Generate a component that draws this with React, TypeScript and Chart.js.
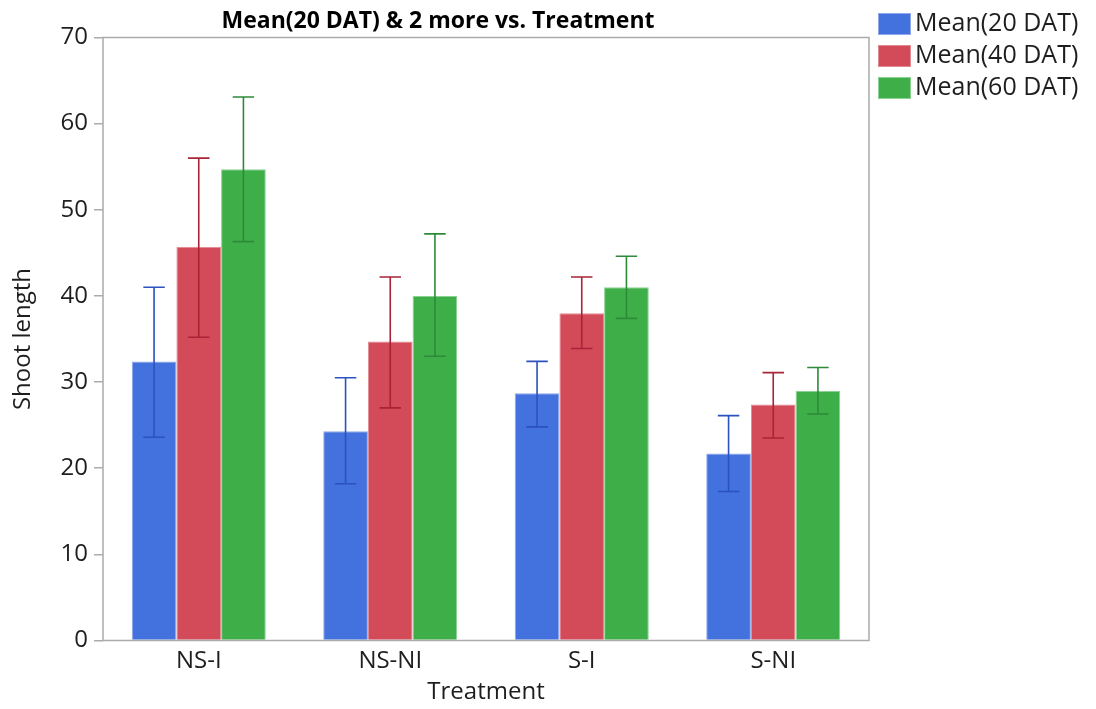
import React, { useEffect, useRef } from "react";
import { Chart, registerables } from "chart.js";

Chart.register(...registerables);

const categories = ["NS-I", "NS-NI", "S-I", "S-NI"];
const seriesNames = ["Mean(20 DAT)", "Mean(40 DAT)", "Mean(60 DAT)"];
const mean20 = [32.4, 24.3, 28.7, 21.7];
const mean40 = [45.7, 34.7, 38.0, 27.4];
const mean60 = [54.7, 40.0, 41.0, 29.0];
const low20 = [23.6, 18.2, 24.8, 17.3];
const high20 = [41.0, 30.5, 32.4, 26.1];
const low40 = [35.2, 27.0, 33.9, 23.5];
const high40 = [56.0, 42.2, 42.2, 31.1];
const low60 = [46.3, 33.0, 37.4, 26.3];
const high60 = [63.1, 47.2, 44.6, 31.7];
const yTicks = [0, 10, 20, 30, 40, 50, 60, 70];

const fills = ["#4371DD", "#D34A59", "#3EAF48"];
const edges = ["#8FA9EA", "#E28A94", "#8AD192"];
const errColors = ["#2B52BE", "#A82436", "#2C8A38"];
const lows = [low20, low40, low60];
const highs = [high20, high40, high60];
const FONT = "'Open Sans', 'Noto Sans', sans-serif";
const TEXT = "#1e1e1e";
const FRAME = "#ABABAB";

const decorPlugin = {
  id: "decor",
  afterDatasetsDraw(chart: any) {
    const ctx = chart.ctx;
    const { left, right, top, bottom } = chart.chartArea;
    const ys = chart.scales.y;
    ctx.save();
    ctx.strokeStyle = FRAME;
    ctx.lineWidth = 1.5;
    ctx.beginPath();
    ctx.rect(left, top, right - left, bottom - top);
    ctx.stroke();
    ctx.restore();
    chart.data.datasets.forEach((ds: any, di: number) => {
      const meta = chart.getDatasetMeta(di);
      ctx.save();
      ctx.strokeStyle = errColors[di];
      ctx.lineWidth = 1.6;
      meta.data.forEach((bar: any, i: number) => {
        const x = bar.x;
        const yl = ys.getPixelForValue(lows[di][i]);
        const yh = ys.getPixelForValue(highs[di][i]);
        const cap = bar.width * 0.24;
        ctx.beginPath();
        ctx.moveTo(x, yl);
        ctx.lineTo(x, yh);
        ctx.moveTo(x - cap, yh);
        ctx.lineTo(x + cap, yh);
        ctx.moveTo(x - cap, yl);
        ctx.lineTo(x + cap, yl);
        ctx.stroke();
      });
      ctx.restore();
    });
  },
  afterDraw(chart: any) {
    const ctx = chart.ctx;
    ctx.save();
    ctx.fillStyle = "#000";
    ctx.font = `bold 23px ${FONT}`;
    ctx.textAlign = "center";
    ctx.textBaseline = "middle";
    ctx.fillText("Mean(20 DAT) & 2 more vs. Treatment", 430, 13);
    ctx.textAlign = "left";
    ctx.font = `25px ${FONT}`;
    seriesNames.forEach((name, i) => {
      const y = 5 + i * 32;
      ctx.fillStyle = fills[i];
      ctx.fillRect(870, y, 33, 22);
      ctx.strokeStyle = edges[i];
      ctx.lineWidth = 1;
      ctx.strokeRect(870.5, y + 0.5, 32, 21);
      ctx.fillStyle = TEXT;
      ctx.fillText(name, 907, y + 11);
    });
    ctx.restore();
  },
};

export default function App() {
  const ref = useRef<HTMLCanvasElement>(null);
  useEffect(() => {
    if (!ref.current) return;
    const means = [mean20, mean40, mean60];
    const chart = new Chart(ref.current, {
      type: "bar",
      data: {
        labels: categories,
        datasets: seriesNames.map((n, i) => ({
          label: n,
          data: means[i],
          backgroundColor: fills[i],
          borderColor: edges[i],
          borderWidth: 1,
          categoryPercentage: 0.7,
          barPercentage: 1.0,
        })),
      },
      options: {
        animation: false,
        responsive: false,
        devicePixelRatio: 1,
        layout: { padding: { top: 29.5, right: 219, left: 0, bottom: 0 } },
        plugins: {
          legend: { display: false },
          title: { display: false },
          tooltip: { enabled: false },
        },
        scales: {
          x: {
            afterFit: (s: any) => {
              s.height = 68.5;
            },
            grid: { display: false, drawTicks: false },
            border: { display: false },
            ticks: { font: { family: FONT, size: 24 }, color: TEXT, padding: 6 },
            title: {
              display: true,
              text: "Treatment",
              font: { family: FONT, size: 24 },
              color: TEXT,
              padding: { top: 0, bottom: 2 },
            },
          },
          y: {
            min: 0,
            max: 70,
            afterFit: (s: any) => {
              s.width = 95;
            },
            afterBuildTicks: (s: any) => {
              s.ticks = yTicks.map((v) => ({ value: v }));
            },
            grid: {
              display: true,
              drawOnChartArea: false,
              drawTicks: true,
              tickLength: 9,
              color: FRAME,
              lineWidth: 1.5,
            },
            border: { display: false },
            ticks: { font: { family: FONT, size: 24 }, color: TEXT, padding: 6 },
            title: {
              display: true,
              text: "Shoot length",
              font: { family: FONT, size: 24 },
              color: TEXT,
              padding: { top: 1, bottom: 0 },
            },
          },
        },
      },
      plugins: [decorPlugin],
    });
    return () => chart.destroy();
  }, []);
  return (
    <div style={{ width: 1080, height: 701, marginBottom: -8 }}>
      <canvas ref={ref} width={1080} height={701} />
    </div>
  );
}
